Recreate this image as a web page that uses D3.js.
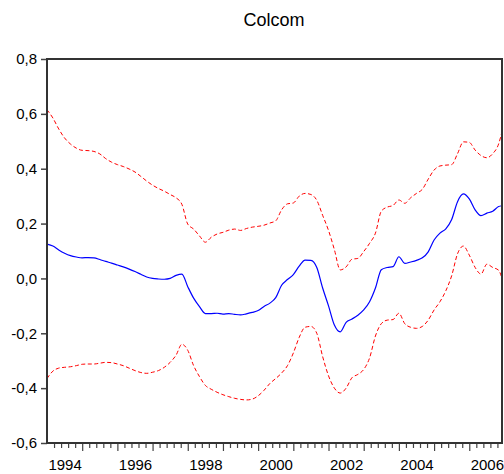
<!DOCTYPE html>
<html>
<head>
<meta charset="utf-8">
<script src="https://cdn.jsdelivr.net/npm/d3@7"></script>
<style>
  html, body { margin: 0; padding: 0; background: #fff; }
  svg { display: block; font-family: "Liberation Sans", Arial, sans-serif; }
</style>
</head>
<body>
<svg id="chart" width="504" height="474"></svg>
<script>
// Bi-monthly observations from 1994 to late 2006
const periods = d3.range(78).map(i => 1994 + i / 6).concat([2006.93]);

// Estimated coefficient
const estimate = [
  0.125, 0.118, 0.104, 0.092, 0.083, 0.078, 0.075, 0.076, 0.075, 0.069,
  0.062, 0.056, 0.049, 0.042, 0.034, 0.025, 0.015, 0.005, 0.000, -0.002,
  -0.003, 0.000, 0.011, 0.016, -0.030, -0.072, -0.103, -0.128, -0.128, -0.127,
  -0.130, -0.128, -0.131, -0.133, -0.129, -0.124, -0.117, -0.102, -0.090, -0.070,
  -0.025, -0.004, 0.014, 0.045, 0.067, 0.066, 0.040, -0.035, -0.100, -0.170,
  -0.195, -0.160, -0.148, -0.134, -0.115, -0.085, -0.035, 0.032, 0.040, 0.043,
  0.079, 0.055, 0.060, 0.066, 0.075, 0.097, 0.140, 0.165, 0.181, 0.215,
  0.280, 0.308, 0.290, 0.250, 0.229, 0.238, 0.245, 0.262, 0.265
];

// Upper confidence band
const upperBand = [
  0.615, 0.585, 0.545, 0.512, 0.490, 0.475, 0.467, 0.466, 0.463, 0.454,
  0.437, 0.424, 0.415, 0.408, 0.399, 0.388, 0.372, 0.355, 0.340, 0.328,
  0.318, 0.306, 0.294, 0.270, 0.198, 0.180, 0.155, 0.132, 0.150, 0.162,
  0.168, 0.176, 0.180, 0.175, 0.182, 0.187, 0.190, 0.194, 0.202, 0.210,
  0.250, 0.272, 0.275, 0.300, 0.310, 0.306, 0.285, 0.230, 0.175, 0.105,
  0.031, 0.042, 0.070, 0.073, 0.098, 0.128, 0.165, 0.245, 0.260, 0.266,
  0.286, 0.274, 0.294, 0.310, 0.325, 0.362, 0.395, 0.410, 0.413, 0.415,
  0.455, 0.498, 0.496, 0.468, 0.448, 0.440, 0.455, 0.490, 0.535
];

// Lower confidence band
const lowerBand = [
  -0.365, -0.338, -0.327, -0.324, -0.322, -0.318, -0.313, -0.312, -0.312, -0.309,
  -0.306, -0.307, -0.312, -0.318, -0.327, -0.336, -0.343, -0.346, -0.342, -0.336,
  -0.324, -0.306, -0.280, -0.240, -0.262, -0.318, -0.358, -0.390, -0.404, -0.415,
  -0.424, -0.431, -0.437, -0.441, -0.443, -0.440, -0.428, -0.408, -0.383, -0.365,
  -0.345, -0.318, -0.272, -0.215, -0.178, -0.175, -0.200, -0.285, -0.355, -0.400,
  -0.418, -0.400, -0.362, -0.350, -0.332, -0.290, -0.210, -0.165, -0.152, -0.150,
  -0.127, -0.165, -0.178, -0.182, -0.175, -0.152, -0.115, -0.085, -0.045, 0.010,
  0.090, 0.118, 0.085, 0.040, 0.016, 0.052, 0.040, 0.030, 0.000
];

const yTicks = [-0.6, -0.4, -0.2, 0.0, 0.2, 0.4, 0.6, 0.8];
const yearLabels = [1994, 1996, 1998, 2000, 2002, 2004, 2006];
const title = "Colcom";

const svg = d3.select("#chart");
const plotLeft = 47, plotRight = 502, plotTop = 59, plotBottom = 443;

const x = d3.scaleLinear().domain([1994, 2006.93]).range([plotLeft, plotRight]);
const y = d3.scaleLinear().domain([-0.6, 0.8]).range([plotBottom, plotTop]);

const fmt = v => d3.format(".1f")(v).replace(".", ",").replace("−", "-");
const fontFam = "'Liberation Sans', Arial, sans-serif";

// Title
svg.append("text")
  .attr("x", 274).attr("y", 26)
  .attr("text-anchor", "middle")
  .attr("font-size", 18)
  .attr("fill", "#000")
  .text(title);

// Y axis
const yAxis = d3.axisLeft(y).tickValues(yTicks).tickFormat(fmt).tickSize(6).tickPadding(4);
const gy = svg.append("g").attr("transform", `translate(${plotLeft},0)`).call(yAxis);
gy.select(".domain").remove();
gy.selectAll(".tick line").attr("stroke", "#444").attr("stroke-width", 1.5);
gy.selectAll(".tick text").attr("font-size", 15).attr("fill", "#000").attr("font-family", fontFam);

// X axis: yearly major ticks, minor ticks in between
const majorYears = d3.range(1995, 2007);
const minorTicks = d3.range(1994, 2007, 0.2)
  .filter(t => Math.abs(t - Math.round(t)) > 0.01 && x(t) < plotRight);
const gxMinor = svg.append("g").attr("transform", `translate(0,${plotBottom})`)
  .call(d3.axisBottom(x).tickValues(minorTicks).tickFormat("").tickSize(5));
gxMinor.select(".domain").remove();
gxMinor.selectAll(".tick line").attr("stroke", "#444").attr("stroke-width", 1.2);

const gxMajor = svg.append("g").attr("transform", `translate(0,${plotBottom})`)
  .call(d3.axisBottom(x).tickValues(majorYears).tickFormat("").tickSize(8));
gxMajor.select(".domain").remove();
gxMajor.selectAll(".tick line").attr("stroke", "#444").attr("stroke-width", 1.2);

const gl = svg.append("g").attr("transform", `translate(0,${plotBottom})`)
  .call(d3.axisBottom(x).tickValues(yearLabels.map(v => v + 0.5))
    .tickFormat(d => String(Math.floor(d))).tickSize(0).tickPadding(16));
gl.select(".domain").remove();
gl.selectAll(".tick text").attr("font-size", 15).attr("fill", "#000").attr("font-family", fontFam);

// Series lines, clipped to the plot frame
svg.append("clipPath").attr("id", "plotclip")
  .append("rect").attr("x", plotLeft).attr("y", plotTop)
  .attr("width", plotRight - plotLeft).attr("height", plotBottom - plotTop);

const line = vals => d3.line()
  .x((d, i) => x(periods[i]))
  .y(d => y(d))
  .curve(d3.curveMonotoneX)(vals);

const plot = svg.append("g").attr("clip-path", "url(#plotclip)");
plot.append("path").attr("d", line(upperBand))
  .attr("fill", "none").attr("stroke", "#ff0000").attr("stroke-width", 1)
  .attr("stroke-dasharray", "4,2.5");
plot.append("path").attr("d", line(lowerBand))
  .attr("fill", "none").attr("stroke", "#ff0000").attr("stroke-width", 1)
  .attr("stroke-dasharray", "4,2.5");
plot.append("path").attr("d", line(estimate))
  .attr("fill", "none").attr("stroke", "#0000ff").attr("stroke-width", 1.2);

// Frame
svg.append("rect")
  .attr("x", plotLeft).attr("y", plotTop)
  .attr("width", plotRight - plotLeft).attr("height", plotBottom - plotTop)
  .attr("fill", "none").attr("stroke", "#333").attr("stroke-width", 2);
</script>
</body>
</html>
